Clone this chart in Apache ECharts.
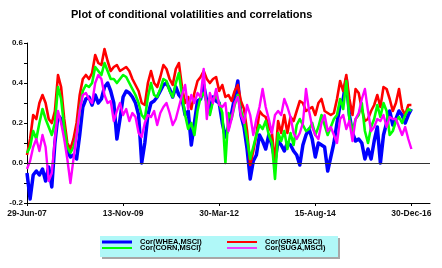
<!DOCTYPE html>
<html>
<head>
<meta charset="utf-8">
<script src="https://cdn.jsdelivr.net/npm/echarts@6/dist/echarts.min.js"></script>
<style>
html,body{margin:0;padding:0;background:#fff;}
#chart{width:442px;height:268px;}
</style>
</head>
<body>
<div id="chart"></div>
<script>
// ---- data (one point per 28 days from 29-Jun-07) ----
const tickLabels = ['29-Jun-07', '13-Nov-09', '30-Mar-12', '15-Aug-14', '30-Dec-16'];
const seriesNames = ['Cor(WHEA,MSCI)', 'Cor(GRAI,MSCI)', 'Cor(CORN,MSCI)', 'Cor(SUGA,MSCI)'];

const wheaMsci = [
  -0.05,-0.18,-0.06,-0.04,-0.06,-0.03,-0.09,-0.02,-0.12,0.10,0.24,0.22,0.16,0.06,0.03,0.04,0.02,0.14,0.28,0.32,0.33,0.29,0.34,0.30,
  0.32,0.38,0.40,0.36,0.30,0.12,0.22,0.33,0.36,0.35,0.33,0.30,0.24,0.00,0.10,0.24,0.30,0.31,0.33,0.36,0.39,0.40,0.37,0.33,0.38,0.34,
  0.32,0.24,0.26,0.09,0.20,0.31,0.32,0.39,0.31,0.26,0.33,0.31,0.30,0.20,0.13,0.18,0.25,0.33,0.41,0.24,0.18,0.07,-0.08,0.01,
  0.04,0.14,0.11,0.07,0.14,0.09,0.01,0.11,0.09,0.06,0.10,0.09,0.06,0.04,-0.01,0.09,0.14,0.17,0.12,0.03,0.10,0.09,0.08,-0.04,
  0.03,0.10,0.20,0.29,0.32,0.42,0.24,0.15,0.11,0.12,0.10,0.02,0.07,0.02,0.11,0.18,0.00,0.14,0.20,0.26,0.19,0.22,0.26,0.24,0.20,0.24,0.27
];
const graiMsci = [
  0.04,0.12,0.24,0.22,0.30,0.34,0.30,0.22,0.20,0.26,0.44,0.38,0.22,0.10,0.07,0.12,0.20,0.34,0.42,0.44,0.42,0.45,0.54,0.50,
  0.49,0.57,0.51,0.46,0.48,0.49,0.46,0.47,0.48,0.46,0.42,0.39,0.36,0.30,0.29,0.40,0.46,0.40,0.38,0.43,0.49,0.47,0.42,0.39,0.47,0.50,
  0.38,0.30,0.33,0.27,0.35,0.41,0.43,0.46,0.42,0.40,0.42,0.43,0.36,0.39,0.33,0.34,0.31,0.36,0.39,0.31,0.27,0.16,-0.01,0.06,
  0.14,0.26,0.24,0.23,0.18,0.15,0.00,0.21,0.15,0.24,0.15,0.23,0.21,0.26,0.31,0.30,0.26,0.27,0.28,0.24,0.30,0.32,0.26,0.25,
  0.24,0.25,0.32,0.41,0.36,0.44,0.32,0.24,0.37,0.35,0.27,0.21,0.22,0.26,0.29,0.34,0.28,0.38,0.37,0.32,0.26,0.30,0.37,0.27,0.24,0.29,0.29
];
const cornMsci = [
  0.05,0.08,0.16,0.12,0.20,0.27,0.22,0.18,0.14,0.20,0.38,0.32,0.18,0.08,0.05,0.08,0.14,0.26,0.36,0.39,0.38,0.40,0.48,0.46,
  0.44,0.50,0.46,0.42,0.42,0.40,0.42,0.44,0.43,0.40,0.37,0.34,0.30,0.24,0.22,0.33,0.40,0.34,0.33,0.37,0.42,0.41,0.36,0.33,0.40,0.45,
  0.34,0.24,0.17,0.20,0.14,0.26,0.33,0.35,0.30,0.24,0.31,0.34,0.30,0.25,0.00,0.25,0.22,0.29,0.34,0.26,0.21,0.12,0.02,0.08,
  0.14,0.19,0.17,0.21,0.14,0.10,-0.08,0.15,0.11,0.16,0.07,0.15,0.09,0.19,0.22,0.19,0.16,0.17,0.20,0.14,0.18,0.24,0.19,0.14,
  0.18,0.22,0.24,0.32,0.27,0.41,0.22,0.16,0.22,0.24,0.30,0.16,0.10,0.18,0.22,0.29,0.23,0.30,0.26,0.14,0.16,0.21,0.23,0.20,0.24,0.27,0.26
];
const sugaMsci = [
  -0.03,0.01,0.08,0.12,0.06,0.14,0.08,-0.09,-0.05,0.12,0.26,0.20,0.12,0.02,-0.10,0.02,0.14,0.26,0.34,0.35,0.32,0.30,0.40,0.44,
  0.42,0.34,0.30,0.31,0.21,0.26,0.30,0.24,0.27,0.21,0.25,0.23,0.15,0.13,0.20,0.24,0.23,0.26,0.19,0.25,0.28,0.30,0.25,0.19,0.22,0.28,
  0.34,0.39,0.27,0.34,0.30,0.35,0.33,0.47,0.22,0.35,0.30,0.37,0.29,0.28,0.30,0.16,0.22,0.30,0.33,0.24,0.20,0.29,0.24,0.14,
  0.22,0.28,0.37,0.28,0.22,0.15,0.24,0.26,0.24,0.32,0.28,0.23,0.15,0.12,0.15,0.20,0.37,0.26,0.18,0.14,0.12,0.20,0.24,0.16,
  0.18,0.14,0.10,0.22,0.24,0.17,0.21,0.11,0.22,0.25,0.32,0.37,0.26,0.16,0.18,0.22,0.21,0.24,0.18,0.23,0.22,0.22,0.18,0.14,0.18,0.12,0.07
];

// ---- categories: dates every 28 days, axis runs a little past the last observation ----
const MONTHS = ['Jan','Feb','Mar','Apr','May','Jun','Jul','Aug','Sep','Oct','Nov','Dec'];
const startMs = Date.UTC(2007, 5, 29);
const stepDays = 28;
const nCategories = 131;
function fmtDate(ms) {
  const d = new Date(ms);
  const dd = String(d.getUTCDate()).padStart(2, '0');
  const yy = String(d.getUTCFullYear() % 100).padStart(2, '0');
  return dd + '-' + MONTHS[d.getUTCMonth()] + '-' + yy;
}
const categories = [];
for (let i = 0; i < nCategories; i++) categories.push(fmtDate(startMs + i * stepDays * 86400000));

const colors = ['#0000ff', '#ff0000', '#00ff00', '#ff00ff'];
const widths = [3.5, 2.6, 2.6, 2.4];
const values = [wheaMsci, graiMsci, cornMsci, sugaMsci];

const isTick = (idx, val) => tickLabels.indexOf(val) >= 0;

const series = values.map((v, k) => {
  const s = {
    name: seriesNames[k],
    type: 'line',
    data: v,
    showSymbol: false,
    symbol: 'none',
    color: colors[k],
    lineStyle: { width: widths[k], color: colors[k], join: 'round' },
    animation: false,
    silent: true
  };
  if (k === values.length - 1) {
    s.markLine = {
      silent: true,
      symbol: 'none',
      label: { show: false },
      lineStyle: { color: '#333', width: 1, type: 'solid' },
      data: [{ yAxis: 0 }]
    };
  }
  return s;
});

const legendFont = { fontSize: 7.5, fontWeight: 'bold', color: '#000', lineHeight: 7, padding: [0, 0, 0, 3], fontFamily: 'Liberation Sans' };
function mkLegend(name, left, top, h) {
  return {
    data: [name], left: left, top: top, orient: 'vertical', padding: 0,
    itemWidth: 30, itemHeight: h, icon: 'rect', selectedMode: false,
    textStyle: legendFont, z: 10
  };
}

const chart = echarts.init(document.getElementById('chart'), null, { renderer: 'canvas' });
chart.setOption({
  animation: false,
  textStyle: { fontFamily: 'Liberation Sans' },
  title: {
    text: 'Plot of conditional volatilities and correlations',
    left: 71, top: 9, padding: 0,
    textStyle: { fontSize: 11, fontWeight: 'bold', color: '#000', fontFamily: 'Liberation Sans' }
  },
  graphic: [
    { type: 'rect', z: 1, shape: { x: 102, y: 238, width: 238, height: 21 }, style: { fill: '#a8a8a8' } },
    { type: 'rect', z: 2, shape: { x: 100, y: 236, width: 238, height: 21 }, style: { fill: '#b0f8f8' } }
  ],
  legend: [
    mkLegend(seriesNames[0], 102, 238, 3),
    mkLegend(seriesNames[2], 102, 244, 2),
    mkLegend(seriesNames[1], 227, 238, 2),
    mkLegend(seriesNames[3], 227, 244, 1.5)
  ],
  grid: { left: 27, right: 12, top: 43, bottom: 65, containLabel: false },
  xAxis: {
    type: 'category',
    data: categories,
    boundaryGap: false,
    axisLine: { show: true, lineStyle: { color: '#000', width: 1 }, onZero: false },
    axisTick: { show: true, interval: isTick, length: 3, lineStyle: { color: '#000' } },
    axisLabel: {
      interval: isTick, margin: 6, fontSize: 8.5, fontWeight: 'bold', color: '#111',
      fontFamily: 'Liberation Sans', hideOverlap: false
    },
    splitLine: { show: false }
  },
  yAxis: {
    type: 'value',
    min: -0.2, max: 0.6, interval: 0.1,
    axisLine: { show: true, lineStyle: { color: '#000', width: 1 } },
    axisTick: { show: true, length: 3, lineStyle: { color: '#000' } },
    axisLabel: {
      margin: 4, fontSize: 8, fontWeight: 'bold', color: '#111', fontFamily: 'Liberation Sans',
      formatter: v => (Math.round(v * 10) % 2 === 0 ? v.toFixed(1) : '')
    },
    splitLine: { show: false }
  },
  series: series
});
</script>
</body>
</html>
